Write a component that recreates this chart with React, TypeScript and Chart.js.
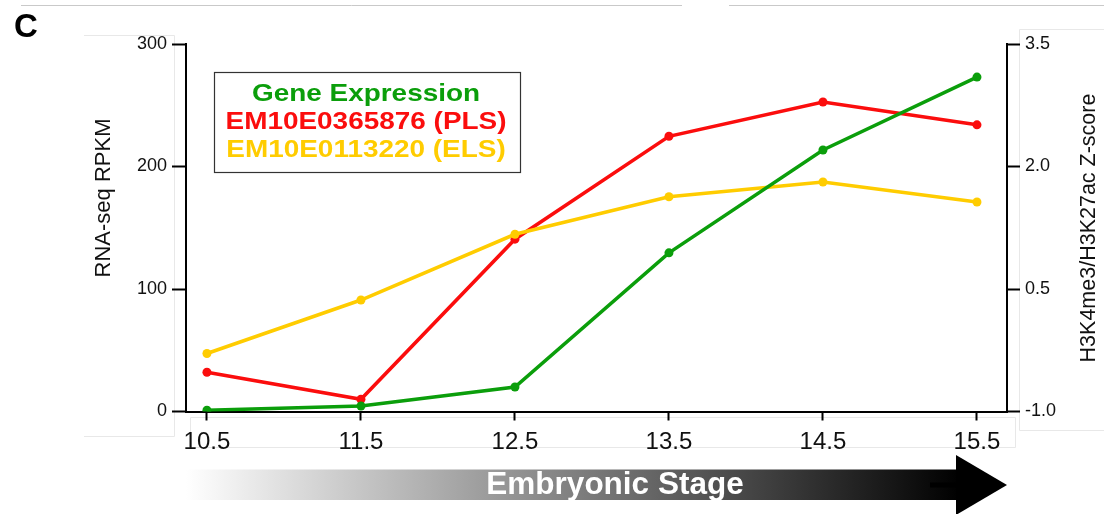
import React, { useEffect, useRef } from "react";
import { Chart, registerables } from "chart.js";

Chart.register(...registerables);

// ---- data ----
const stages = [10.5, 11.5, 12.5, 13.5, 14.5, 15.5];
const geneExpression = [1, 4.5, 20, 129.5, 213.5, 273];
const plsZScore = [-0.52, -0.85, 1.11, 2.37, 2.79, 2.51];
const elsZScore = [-0.29, 0.365, 1.17, 1.63, 1.81, 1.565];
const leftTicks = [0, 100, 200, 300];
const rightTicks = [-1.0, 0.5, 2.0, 3.5];
const legendLabels = ["Gene Expression", "EM10E0365876 (PLS)", "EM10E0113220 (ELS)"];
const seriesColors = ["#0b9e0b", "#fb0d0d", "#ffcc00"];
const panelLabel = "C";
const leftTitle = "RNA-seq RPKM";
const rightTitle = "H3K4me3/H3K27ac Z-score";
const arrowLabel = "Embryonic Stage";

const FONT = '"Liberation Sans", Arial, Helvetica, sans-serif';

const decorPlugin = {
  id: "decor",
  beforeDraw(chart: any) {
    const ctx = chart.ctx as CanvasRenderingContext2D;
    ctx.save();
    ctx.fillStyle = "#ffffff";
    ctx.fillRect(0, 0, chart.width, chart.height);
    // faint frame artifacts
    ctx.lineWidth = 1;
    ctx.strokeStyle = "#c9c9c9";
    ctx.beginPath();
    ctx.moveTo(21, 5.5); ctx.lineTo(682, 5.5);
    ctx.moveTo(729, 5.5); ctx.lineTo(1104, 5.5);
    ctx.stroke();
    ctx.strokeStyle = "#e8e8e8";
    ctx.beginPath();
    ctx.moveTo(84, 35.5); ctx.lineTo(174.5, 35.5); ctx.lineTo(174.5, 436.5); ctx.lineTo(84, 436.5);
    ctx.moveTo(190.5, 417.5); ctx.lineTo(1015.5, 417.5); ctx.lineTo(1015.5, 447.5); ctx.lineTo(190.5, 447.5); ctx.closePath();
    ctx.moveTo(1104, 29.5); ctx.lineTo(1019.5, 29.5); ctx.lineTo(1019.5, 430.5); ctx.lineTo(1104, 430.5);
    ctx.stroke();
    ctx.restore();
  },
  afterDraw(chart: any) {
    const ctx = chart.ctx as CanvasRenderingContext2D;
    ctx.save();
    // panel label
    ctx.fillStyle = "#000";
    ctx.font = `bold 33px ${FONT}`;
    ctx.textAlign = "left";
    ctx.textBaseline = "alphabetic";
    ctx.fillText(panelLabel, 14, 37);

    // axis titles (rotated, reading upward)
    ctx.fillStyle = "#111";
    ctx.font = `22px ${FONT}`;
    ctx.textAlign = "center";
    ctx.save();
    ctx.translate(110, 198);
    ctx.rotate(-Math.PI / 2);
    ctx.fillText(leftTitle, 0, 0);
    ctx.restore();
    ctx.font = `21.5px ${FONT}`;
    ctx.save();
    ctx.translate(1095, 228);
    ctx.rotate(-Math.PI / 2);
    ctx.fillText(rightTitle, 0, 0);
    ctx.restore();

    // legend box
    ctx.strokeStyle = "#333";
    ctx.lineWidth = 1.2;
    ctx.fillStyle = "#fff";
    ctx.fillRect(214, 72, 307, 101);
    ctx.strokeRect(214.5, 72.5, 306, 100);
    ctx.font = `bold 24.5px ${FONT}`;
    ctx.textAlign = "center";
    const baselines = [100.5, 128.5, 156.5];
    legendLabels.forEach((lbl, i) => {
      ctx.save();
      ctx.translate(366, baselines[i]);
      ctx.scale(1.14, 1);
      ctx.fillStyle = seriesColors[i];
      ctx.fillText(lbl, 0, 0);
      ctx.restore();
    });

    // embryonic stage arrow
    const grad = ctx.createLinearGradient(186, 0, 960, 0);
    grad.addColorStop(0, "#ffffff");
    grad.addColorStop(1, "#000000");
    ctx.fillStyle = grad;
    ctx.fillRect(186, 469.5, 772, 30.5);
    ctx.fillStyle = "#000";
    ctx.beginPath();
    ctx.moveTo(956, 455);
    ctx.lineTo(1007, 485);
    ctx.lineTo(956, 515);
    ctx.closePath();
    ctx.fill();
    ctx.fillRect(930, 482.5, 27, 5);
    ctx.fillStyle = "#fff";
    ctx.font = `bold 31.5px ${FONT}`;
    ctx.textAlign = "center";
    ctx.fillText(arrowLabel, 615, 493.5);
    ctx.restore();
  },
};

export default function App() {
  const ref = useRef<HTMLCanvasElement | null>(null);

  useEffect(() => {
    if (!ref.current) return;
    const mk = (vals: number[]) => stages.map((s, i) => ({ x: s, y: vals[i] }));
    const lineDs = (label: string, vals: number[], color: string, axis: string) => ({
      label,
      data: mk(vals),
      yAxisID: axis,
      borderColor: color,
      backgroundColor: color,
      pointBackgroundColor: color,
      pointBorderWidth: 0,
      pointRadius: 4.5,
      borderWidth: 3.5,
      tension: 0,
    });
    const chart = new Chart(ref.current, {
      type: "line",
      data: {
        datasets: [
          lineDs(legendLabels[0], geneExpression, seriesColors[0], "yL"),
          lineDs(legendLabels[2], elsZScore, seriesColors[2], "yR"),
          lineDs(legendLabels[1], plsZScore, seriesColors[1], "yR"),
        ],
      },
      options: {
        responsive: false,
        animation: false,
        devicePixelRatio: 1,
        layout: { padding: { top: 44, left: 0, right: 0, bottom: 0 } },
        plugins: { legend: { display: false }, tooltip: { enabled: false } },
        font: { family: FONT },
        scales: {
          x: {
            type: "linear",
            min: 10.364,
            max: 15.695,
            afterBuildTicks: (s: any) => {
              s.ticks = stages.map((v) => ({ value: v }));
            },
            afterFit: (s: any) => {
              s.height = 102.5;
            },
            grid: { drawOnChartArea: false, drawTicks: true, tickLength: 9, tickColor: "#000", tickWidth: 2 },
            border: { display: true, color: "#000", width: 2 },
            ticks: {
              color: "#111",
              padding: 7,
              maxRotation: 0,
              autoSkip: false,
              font: { family: FONT, size: 24 },
              callback: (v: any) => Number(v).toFixed(1),
            },
          },
          yL: {
            type: "linear",
            position: "left",
            min: 0,
            max: 300,
            afterBuildTicks: (s: any) => {
              s.ticks = leftTicks.map((v) => ({ value: v }));
            },
            afterFit: (s: any) => {
              s.width = 186;
            },
            grid: { drawOnChartArea: false, drawTicks: true, tickLength: 14, tickColor: "#000", tickWidth: 2 },
            border: { display: true, color: "#000", width: 2 },
            ticks: {
              color: "#111",
              padding: 5,
              font: { family: FONT, size: 18 },
              callback: (v: any) => String(v),
            },
          },
          yR: {
            type: "linear",
            position: "right",
            min: -1,
            max: 3.5,
            afterBuildTicks: (s: any) => {
              s.ticks = rightTicks.map((v) => ({ value: v }));
            },
            afterFit: (s: any) => {
              s.width = 97;
            },
            grid: { drawOnChartArea: false, drawTicks: true, tickLength: 13, tickColor: "#000", tickWidth: 2 },
            border: { display: true, color: "#000", width: 2 },
            ticks: {
              color: "#111",
              padding: 5,
              font: { family: FONT, size: 18 },
              callback: (v: any) => Number(v).toFixed(1),
            },
          },
        },
      } as any,
      plugins: [decorPlugin],
    });
    return () => chart.destroy();
  }, []);

  return (
    <div style={{ position: "absolute", left: 0, top: 0, width: 1104, height: 514, background: "#fff" }}>
      <canvas ref={ref} width={1104} height={514} style={{ display: "block" }} />
    </div>
  );
}
